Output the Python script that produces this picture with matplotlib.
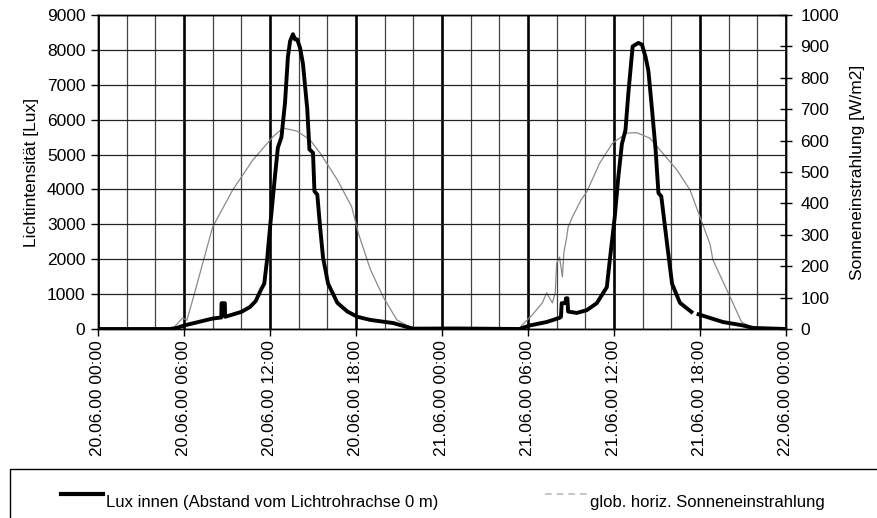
import numpy as np
import matplotlib.pyplot as plt
from matplotlib.lines import Line2D
from matplotlib.patches import Rectangle

plt.rcParams["font.family"] = ["Liberation Sans", "DejaVu Sans"]

# Lux innen, hours since 20.06.00 00:00 (NaN = gap in the logger data)
lux_hours = [0, 5.0, 5.5, 6.0, 7.0, 8.0, 8.6, 8.62, 8.85, 8.87, 10.0, 10.6, 11.0,
             11.4, 11.6, 11.8, 12.0, 12.35, 12.55, 12.8, 13.05, 13.25, 13.4,
             13.6, 13.75, 13.9, 14.1, 14.3, 14.6, 14.75, 15.0, 15.1, 15.3,
             15.5, 15.7, 16.05, 16.7, 17.4, 18.1, 19.0, 20.6, 21.8, 22.0,
             25.0, 29.4, 30.1, 31.3, 32.2, 32.3, 32.35, 32.6, 32.65, 32.75,
             32.8, 33.4, 34.1, 34.8, 35.5, 35.7, 36.05, 36.3, 36.55, 36.8,
             37.0, 37.3, 37.7, 37.95, 38.2, 38.4, 38.65, 38.9, 39.1, 39.3,
             39.7, 40.05, 40.6, 41.4, 41.6, 41.9, 43.6, 44.9, 45.7, 48.0]
lux_values = [0, 0, 30, 100, 200, 300, 330, 740, 740, 350, 490, 630, 800,
              1150, 1300, 2000, 2900, 4400, 5200, 5500, 6500, 7800, 8250,
              8450, 8300, 8300, 8050, 7600, 6300, 5150, 5050, 3950, 3850,
              2900, 2050, 1300, 750, 500, 350, 260, 170, 30, 10,
              15, 0, 100, 200, 320, 350, 740, 740, 880, 880,
              500, 460, 540, 740, 1200, 1950, 3200, 4350, 5300, 5700,
              6750, 8100, 8200, 8150, 7800, 7400, 6300, 5150, 3900, 3800,
              2450, 1300, 750, 490, np.nan, 420, 200, 110, 30, 0]

# glob. horiz. Sonneneinstrahlung [W/m2]
sun_hours = [0, 5.2, 5.9, 6.2, 6.6, 8.0, 9.4, 10.8, 12.2, 12.9, 13.9, 14.8,
             15.5, 16.7, 17.7, 18.2, 19.0, 19.9, 20.85, 21.8, 22.0, 29.4,
             29.6, 30.3, 31.0, 31.3, 31.7, 31.9, 32.0, 32.2, 32.4, 32.5, 32.7,
             32.8, 33.1, 33.7, 34.1, 35.0, 35.9, 36.9, 37.6, 38.5, 39.4, 40.4,
             41.3, 42.0, 42.7, 42.9, 44.1, 44.9, 45.6, 46.0, 48.0]
sun_values = [0, 0, 35, 28, 92, 325, 443, 538, 612, 640, 630, 602,
              560, 475, 389, 300, 190, 102, 29, 5, 0, 0,
              13, 45, 83, 115, 83, 115, 210, 229, 166, 242, 293,
              325, 357, 411, 437, 528, 592, 624, 625, 608, 560, 506,
              443, 357, 270, 220, 102, 22, 6, 0, 0]

tick_hours = [0, 6, 12, 18, 24, 30, 36, 42, 48]
tick_labels = ["20.06.00 00:00", "20.06.00 06:00", "20.06.00 12:00",
               "20.06.00 18:00", "21.06.00 00:00", "21.06.00 06:00",
               "21.06.00 12:00", "21.06.00 18:00", "22.06.00 00:00"]

W, H = 877, 518
fig = plt.figure(figsize=(W / 100, H / 100), dpi=100)
ax2 = fig.add_axes([98 / W, 1 - 329 / H, 688 / W, 314 / H])
ax = ax2.twinx()
ax.yaxis.tick_left()
ax.yaxis.set_label_position("left")
ax2.yaxis.tick_right()
ax2.yaxis.set_label_position("right")
ax.set_zorder(ax2.get_zorder() + 1)
ax.patch.set_visible(False)

fs = 12.5

# vertical grid + irradiance on the lower axes
ax2.plot(sun_hours, sun_values, color="#8a8a8a", lw=0.9)
ax2.set_ylim(0, 1000)
ax2.set_yticks(np.arange(0, 1001, 100))
ax2.set_xlim(0, 48)
ax2.set_xticks(tick_hours)
ax2.set_xticklabels(tick_labels, rotation=90, fontsize=fs)
ax2.set_xticks(np.arange(0, 49, 2), minor=True)
ax2.grid(True, which="major", axis="x", color="black", lw=1.9)
ax2.grid(True, which="minor", axis="x", color="#444444", lw=0.9)
ax2.set_axisbelow(True)
ax2.tick_params(axis="x", which="major", direction="out", length=5, width=1,
                pad=3)
ax2.tick_params(axis="x", which="minor", length=0)
ax2.tick_params(axis="y", direction="inout", length=9, width=1,
                labelsize=fs, pad=6)
ax2.set_ylabel("Sonneneinstrahlung [W/m2]", fontsize=fs, labelpad=8)

# horizontal grid + lux on the upper axes
ax.plot(lux_hours, lux_values, color="black", lw=2.8, solid_joinstyle="round",
        zorder=3)
ax.set_ylim(0, 9000)
ax.set_yticks(np.arange(0, 9001, 1000))
ax.set_xlim(0, 48)
ax.grid(True, axis="y", color="#222222", lw=0.9)
ax.set_axisbelow(True)
ax.tick_params(axis="y", direction="out", length=5, width=1,
               labelsize=fs, pad=4)
ax.set_ylabel("Lichtintensität [Lux]", fontsize=fs, labelpad=6)

for a in (ax, ax2):
    for s in a.spines.values():
        s.set_color("black")
        s.set_linewidth(1)

# legend box (runs off the right and bottom edge like the original)
fig.add_artist(Rectangle((10 / W, -0.2), 1.0, 0.2 + 1 - 469 / H,
                         transform=fig.transFigure, fill=False,
                         edgecolor="black", lw=1))
ly = 1 - 494 / H
ty = 1 - 502 / H
fig.add_artist(Line2D([61 / W, 103 / W], [ly, ly], transform=fig.transFigure,
                      color="black", lw=3))
fig.text(106 / W, ty, "Lux innen (Abstand vom Lichtrohrachse 0 m)",
         fontsize=12, va="center", ha="left")
fig.add_artist(Line2D([545 / W, 587 / W], [ly, ly], transform=fig.transFigure,
                      color="#bbbbbb", lw=1.2, ls=(0, (4, 3))))
fig.text(590 / W, ty, "glob. horiz. Sonneneinstrahlung",
         fontsize=12, va="center", ha="left")

fig.savefig("out.png", dpi=100)
